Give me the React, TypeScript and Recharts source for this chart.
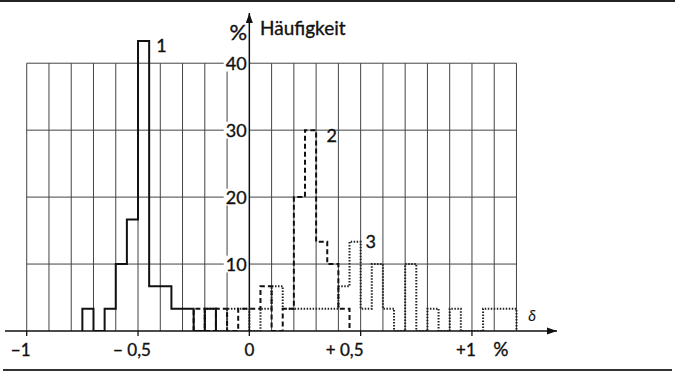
import React from "react";
import { LineChart, Line, XAxis, YAxis, ReferenceLine, ReferenceDot } from "recharts";

// ---- data (percent frequencies per 0.05 %-wide class) ----
const binWidth = 0.05;
const series1Start = -0.75;
const series1Values = [3.33, 0, 3.33, 10, 16.67, 43.33, 6.67, 6.67, 3.33, 3.33, 0, 3.33];
const series2Start = -0.25;
const series2Values = [3.33, 0, 3.33, 0, 3.33, 3.33, 6.67, 0, 3.33, 20, 30, 13.33, 10, 3.33];
const series3Start = -0.2;
const series3Values = [
  3.33, 0, 3.33, 3.33, 0, 3.33, 6.67, 3.33, 3.33, 3.33, 3.33, 3.33, 6.67, 13.33,
  3.33, 10, 3.33, 0, 10, 0, 3.33, 0, 3.33, 0, 0, 3.33, 3.33, 3.33,
];

const xTickValues = [-1, -0.5, 0, 0.5, 1, 1.13];
const xTickLabels = ["−1", "− 0,5", "0", "+ 0,5", "+1", "%"];
const yTickValues = [10, 20, 30, 40];
const gridX = [-1, -0.9, -0.8, -0.7, -0.6, -0.5, -0.4, -0.3, -0.2, 0.1, 0.2, 0.3, 0.4, 0.5, 0.6, 0.7, 0.8, 0.9, 1, 1.1, 1.2];
const gridXMin = -1;
const gridXMax = 1.2;
const gridYMax = 40;
const labelGapLeft = -0.115; // horizontal grid lines stop before the y labels
const labelColumnX = -0.1; // grid column interrupted by the y labels
const labelHalfHeight = 1.25;

const seriesLabels = [
  { text: "1", x: -0.395, y: 41.6 },
  { text: "2", x: 0.37, y: 28.3 },
  { text: "3", x: 0.545, y: 12.4 },
];

const xDomain: [number, number] = [-1.0975, 1.382];
const yDomain: [number, number] = [0, 47.5];

const FONT = "Lato, 'Liberation Sans', sans-serif";
const INK = "#111";
const GRID = "#444";

function stepPoints(start: number, values: number[]) {
  const pts: { x: number; y: number }[] = [{ x: start, y: 0 }];
  values.forEach((v, i) => pts.push({ x: +(start + i * binWidth).toFixed(4), y: v }));
  pts.push({ x: +(start + values.length * binWidth).toFixed(4), y: 0 });
  return pts;
}

const s1 = stepPoints(series1Start, series1Values);
const s2 = stepPoints(series2Start, series2Values);
const s3 = stepPoints(series3Start, series3Values);

// pieces of the grid column at -0.1 between the y labels
const columnPieces: [number, number][] = [0, ...yTickValues].slice(0, -1).map((lo, i) => [
  lo === 0 ? 0 : lo + labelHalfHeight,
  yTickValues[i] - labelHalfHeight,
]);

const XTick = (props: any) => {
  const { x, y, payload } = props;
  const idx = xTickValues.indexOf(payload.value);
  const label = xTickLabels[idx] ?? "";
  let dx = 0;
  if (label.startsWith("−")) dx = -6;
  if (label === "+ 0,5") dx = -16;
  if (label === "+1") dx = -6;
  return (
    <g>
      {label !== "%" && <line x1={x} y1={y} x2={x} y2={y + 5} stroke={INK} strokeWidth={1.3} />}
      <text x={x + dx} y={y + 25} textAnchor="middle" fontFamily={FONT} fontSize={label === "%" ? 19 : 17} fill={INK} stroke={INK} strokeWidth={0.35}>
        {label}
      </text>
    </g>
  );
};

const TextMark = (props: any) => {
  const { cx, cy, text, size, italic, anchor, dy } = props;
  return (
    <text x={cx} y={cy + (dy || 0)} textAnchor={anchor || "middle"} fontFamily={FONT} fontSize={size || 17} fontStyle={italic ? "italic" : "normal"} fill={INK} stroke={INK} strokeWidth={italic ? 0.1 : 0.35}>
      {text}
    </text>
  );
};

const ArrowRight = (props: any) => {
  const { cx, cy } = props;
  return <polygon points={`${cx},${cy} ${cx - 10},${cy - 3.5} ${cx - 10},${cy + 3.5}`} fill={INK} />;
};
const ArrowUp = (props: any) => {
  const { cx, cy } = props;
  return <polygon points={`${cx},${cy} ${cx - 3.5},${cy + 10} ${cx + 3.5},${cy + 10}`} fill={INK} />;
};

export default function App() {
  return (
    <div style={{ position: "absolute", left: 0, top: 0, width: 675, height: 372, background: "#fff" }}>
      <div style={{ position: "absolute", left: 0, top: 0, width: 675, height: 2, background: "#222" }} />
      <div style={{ position: "absolute", left: 3, top: 369, width: 669, height: 2, background: "#333" }} />
      <LineChart width={675} height={372} margin={{ top: 13, right: 118, bottom: 11, left: 5 }}>
        <XAxis
          type="number"
          dataKey="x"
          domain={xDomain}
          allowDataOverflow
          ticks={xTickValues}
          tick={<XTick />}
          tickLine={false}
          tickSize={0}
          tickMargin={0}
          height={30}
          axisLine={{ stroke: INK, strokeWidth: 1.5 }}
          interval={0}
        />
        <YAxis type="number" domain={yDomain} hide allowDataOverflow />
        {gridX.map((gx) => (
          <ReferenceLine key={"gx" + gx} segment={[{ x: gx, y: 0 }, { x: gx, y: gridYMax }]} stroke={GRID} strokeWidth={1} />
        ))}
        {columnPieces.map(([a, b]) => (
          <ReferenceLine key={"gc" + a} segment={[{ x: labelColumnX, y: a }, { x: labelColumnX, y: b }]} stroke={GRID} strokeWidth={1} />
        ))}
        {yTickValues.map((gy) => (
          <ReferenceLine key={"gyr" + gy} segment={[{ x: 0, y: gy }, { x: gridXMax, y: gy }]} stroke={GRID} strokeWidth={1} />
        ))}
        {yTickValues.map((gy) => (
          <ReferenceLine key={"gyl" + gy} segment={[{ x: gridXMin, y: gy }, { x: labelGapLeft, y: gy }]} stroke={GRID} strokeWidth={1} />
        ))}
        {yTickValues.map((gy) => (
          <ReferenceDot key={"yl" + gy} x={-0.012} y={gy} r={0} shape={(p: any) => <TextMark {...p} text={String(gy)} size={18} anchor="end" dy={6.5} />} />
        ))}
        <ReferenceLine segment={[{ x: 0, y: 0 }, { x: 0, y: yDomain[1] }]} stroke={INK} strokeWidth={1.5} />
        <Line data={s3} dataKey="y" type="stepAfter" dot={false} isAnimationActive={false} stroke="#222" strokeWidth={2} strokeDasharray="1.5 1.5" />
        <Line data={s2} dataKey="y" type="stepAfter" dot={false} isAnimationActive={false} stroke={INK} strokeWidth={2} strokeDasharray="5 3" />
        <Line data={s1} dataKey="y" type="stepAfter" dot={false} isAnimationActive={false} stroke={INK} strokeWidth={2} />
        <ReferenceDot x={0} y={yDomain[1]} r={0} shape={(p: any) => <ArrowUp {...p} />} />
        <ReferenceDot x={xDomain[1]} y={0} r={0} shape={(p: any) => <ArrowRight {...p} />} />
        {seriesLabels.map((l) => (
          <ReferenceDot key={"sl" + l.text} x={l.x} y={l.y} r={0} shape={(p: any) => <TextMark {...p} text={l.text} size={18} />} />
        ))}
        <ReferenceDot x={-0.05} y={43.5} r={0} shape={(p: any) => <TextMark {...p} text="%" size={22} />} />
        <ReferenceDot x={0.048} y={44.2} r={0} shape={(p: any) => <TextMark {...p} text="Häufigkeit" size={19} anchor="start" />} />
        <ReferenceDot x={1.27} y={1.5} r={0} shape={(p: any) => <TextMark {...p} text="δ" size={15} italic />} />
      </LineChart>
    </div>
  );
}
